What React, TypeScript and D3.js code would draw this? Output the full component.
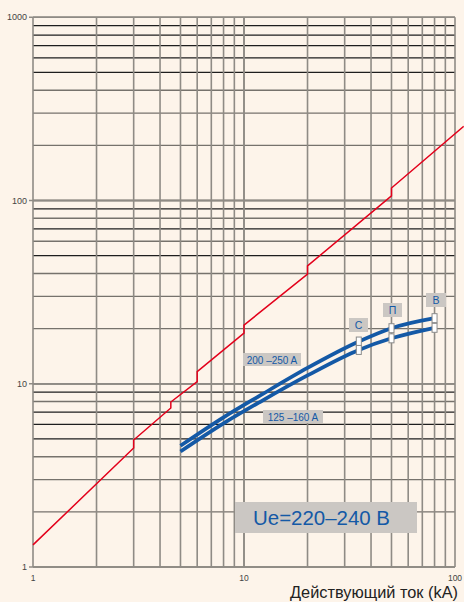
import React from "react";
import * as d3 from "d3";

const W = 464;
const H = 602;

// Axis ticks
const xMajor = [1, 10, 100];
const yMajor = [1, 10, 100, 1000];
const xTickLabels = ["1", "10", "100"];
const yTickLabels = ["1", "10", "100", "1000"];

// Red peak-current line (with steps)
const redX = [1, 3, 3, 4.5, 4.5, 6, 6, 10, 10, 20, 20, 50, 50, 110];
const redY = [1.32, 4.46, 4.93, 7.38, 7.95, 10.27, 11.64, 18.9, 20.9, 39.7, 44, 106, 117, 254];

// Blue curves
const blueX = [5, 8, 12, 20, 35, 50, 80];
const upperY = [4.59, 6.56, 8.67, 12.2, 17.0, 20.1, 22.8];
const lowerY = [4.27, 6.08, 8.0, 11.1, 15.3, 17.7, 20.2];

// Markers
const markerX = [35, 50, 80];
const markerUpperY = [17.0, 20.1, 22.8];
const markerLowerY = [15.3, 17.7, 20.2];
const markerLabels = ["С", "П", "В"];

const seriesLabels = ["200 –250 A", "125 –160 A"];
const titleText = "Ue=220–240 В";
const xAxisTitle = "Действующий ток (kA)";

const BG = "#fdf4ea";
const GRID = "#8f8b85";
const BLUE = "#1459a6";
const RED = "#e3001b";

export default function App() {
  const x = d3.scaleLog().domain([1, 100]).range([33, 455]);
  const y = d3.scaleLog().domain([1, 1000]).range([567, 17.3]);

  const vLines: number[] = [];
  for (let d = 1; d < 100; d *= 10) for (let m = 1; m <= 10; m++) vLines.push(d * m);
  const hLines: { v: number; dark: boolean }[] = [];
  for (let d = 1; d < 1000; d *= 10)
    for (let m = 1; m <= 10; m++) {
      const dark = m === 5 || m === 7 || m === 9 || (d === 1 && m === 6) || (d === 100 && (m === 6 || m === 8));
      hLines.push({ v: d * m, dark });
    }

  const lineGen = d3
    .line<[number, number]>()
    .x((d) => x(d[0]))
    .y((d) => y(d[1]));
  const curveGen = d3
    .line<[number, number]>()
    .x((d) => x(d[0]))
    .y((d) => y(d[1]))
    .curve(d3.curveMonotoneX);

  const redPts = redX.map((v, i) => [v, redY[i]] as [number, number]);
  const upPts = blueX.map((v, i) => [v, upperY[i]] as [number, number]);
  const loPts = blueX.map((v, i) => [v, lowerY[i]] as [number, number]);

  const labelBoxes = [
    { x: 349, y: 318, w: 19, h: 14 },
    { x: 383, y: 303, w: 19, h: 14 },
    { x: 426, y: 293, w: 20, h: 14 },
  ];

  return (
    <svg
      width={W}
      height={H}
      style={{ position: "absolute", left: 0, top: 0, background: BG }}
      fontFamily="Liberation Sans, Arial, sans-serif"
    >
      <rect x={0} y={0} width={W} height={H} fill={BG} />
      <defs>
        <clipPath id="clipR">
          <rect x={0} y={0} width={W} height={567} />
        </clipPath>
      </defs>
      {/* horizontal gridlines */}
      {hLines.map((h, i) => (
        <line
          key={"h" + i}
          x1={x(1)}
          x2={x(100)}
          y1={y(h.v)}
          y2={y(h.v)}
          stroke={h.dark ? "#1e1e1e" : "#76726c"}
          strokeWidth={h.dark ? 1.2 : 1.4}
        />
      ))}
      {/* vertical gridlines */}
      {vLines.map((v, i) => (
        <line
          key={"v" + i}
          x1={x(v)}
          x2={x(v)}
          y1={y(1000)}
          y2={y(1)}
          stroke={GRID}
          strokeWidth={1.6}
        />
      ))}
      {/* major frame lines */}
      {yMajor.map((v, i) => (
        <line key={"ym" + i} x1={x(1) - 4} x2={x(100)} y1={y(v)} y2={y(v)} stroke={GRID} strokeWidth={1.6} />
      ))}
      {/* tick labels */}
      {yMajor.map((v, i) => (
        <text key={"yl" + i} x={27} y={y(v) + 3} fontSize={9} fill="#444" textAnchor="end">
          {yTickLabels[i]}
        </text>
      ))}
      {xMajor.map((v, i) => (
        <text key={"xl" + i} x={x(v)} y={581} fontSize={8.5} fill="#444" textAnchor="middle">
          {xTickLabels[i]}
        </text>
      ))}
      {/* red line */}
      <path d={lineGen(redPts) || ""} fill="none" stroke={RED} strokeWidth={1.5} clipPath="url(#clipR)" />
      {/* blue curves */}
      <path d={curveGen(upPts) || ""} fill="none" stroke={BLUE} strokeWidth={3.7} />
      <path d={curveGen(loPts) || ""} fill="none" stroke={BLUE} strokeWidth={3.7} />
      {/* markers */}
      {markerX.map((mx, i) => (
        <g key={"m" + i}>
          <rect x={x(mx) - 2.5} y={y(markerUpperY[i]) - 4.5} width={5} height={9} fill="#fff" stroke="#8a8a8a" strokeWidth={1} />
          <rect x={x(mx) - 2.5} y={y(markerLowerY[i]) - 4.5} width={5} height={9} fill="#fff" stroke="#8a8a8a" strokeWidth={1} />
        </g>
      ))}
      {/* marker labels */}
      {labelBoxes.map((b, i) => (
        <g key={"lb" + i}>
          <rect x={b.x} y={b.y} width={b.w} height={b.h} fill="#cbc7c3" />
          <text x={b.x + b.w / 2} y={b.y + 10.5} fontSize={10.5} fill={BLUE} textAnchor="middle">
            {markerLabels[i]}
          </text>
        </g>
      ))}
      {/* series labels */}
      <rect x={243} y={353} width={58} height={13} fill="#cbc7c3" />
      <text x={272} y={363.5} fontSize={10} fill={BLUE} textAnchor="middle">
        {seriesLabels[0]}
      </text>
      <rect x={263} y={410} width={60} height={13} fill="#cbc7c3" />
      <text x={293} y={420.5} fontSize={10} fill={BLUE} textAnchor="middle">
        {seriesLabels[1]}
      </text>
      {/* title box */}
      <rect x={235} y={502} width={182} height={31} fill="#cbc7c3" />
      <text x={253} y={525} fontSize={20} fill={BLUE} textLength={137} lengthAdjust="spacingAndGlyphs">
        {titleText}
      </text>
      {/* axis title */}
      <text x={458} y={598} fontSize={16.5} fill="#222" textAnchor="end" textLength={168} lengthAdjust="spacingAndGlyphs">
        {xAxisTitle}
      </text>
    </svg>
  );
}
